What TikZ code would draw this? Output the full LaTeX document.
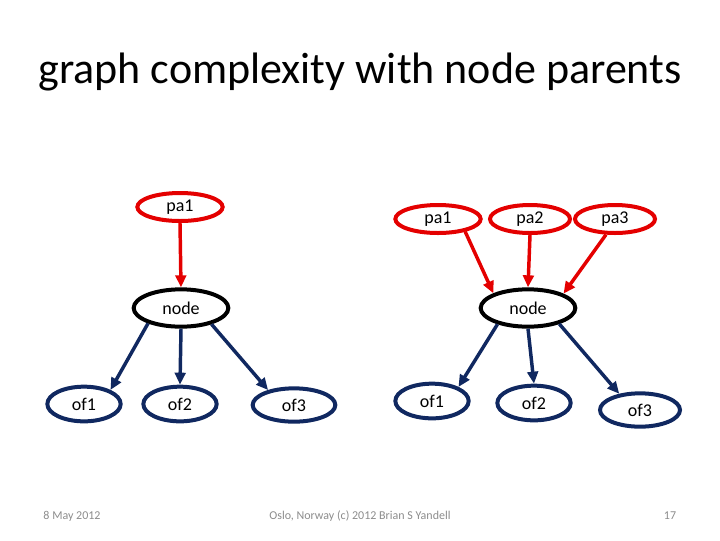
\documentclass[tikz,border=0pt]{standalone}
\usepackage{fontspec}
\setmainfont{Carlito}
\usetikzlibrary{shapes.geometric,arrows.meta}
\definecolor{myred}{RGB}{228,0,0}
\definecolor{mynavy}{RGB}{16,40,96}
\definecolor{footgray}{RGB}{140,140,140}
\tikzset{
  ell/.style={ellipse, line width=3pt, inner sep=0pt, font=\fontsize{13.5}{16}\selectfont},
  pabox/.style={ell, draw=myred, minimum width=64pt, minimum height=21pt},
  nodebox/.style={ell, draw=black, minimum width=71pt, minimum height=28pt},
  ofbox/.style={ell, draw=mynavy, minimum width=55pt, minimum height=26pt},
  redarrow/.style={draw=myred, line width=2.6pt, -{Triangle[length=9pt,width=8pt]}},
  navyarrow/.style={draw=mynavy, line width=2.6pt, -{Triangle[length=9pt,width=8pt]}},
  foot/.style={text=footgray, font=\fontsize{9}{11}\selectfont, anchor=base}
}
\begin{document}
\begin{tikzpicture}[x=0.75pt,y=-0.75pt]
\useasboundingbox (0,0) rectangle (720,540);
\node[anchor=base, font=\fontsize{33}{40}\selectfont] (title) at (360,83) {graph complexity with node parents};

% left graph
\node[pabox] (paL) at (180,207) {pa1};
\node[nodebox] (nL) at (181,308) {node};
\node[ofbox] (of1L) at (84,404) {of1};
\node[ofbox] (of2L) at (180,404) {of2};
\node[ofbox, minimum width=62pt, minimum height=25pt] (of3L) at (294,405) {of3};

\draw[redarrow] (paL.south) -- (nL.north);
\draw[navyarrow] (nL.205) -- (of1L.28);
\draw[navyarrow] (nL.south) -- (of2L.north);
\draw[navyarrow] (nL.332) -- (of3L.150);

% right graph
\node[pabox] (pa1R) at (438,219) {pa1};
\node[pabox, minimum width=60pt] (pa2R) at (530,219) {pa2};
\node[pabox, minimum width=60pt] (pa3R) at (615,219) {pa3};
\node[nodebox] (nR) at (528,308) {node};
\node[ofbox] (of1R) at (432,401) {of1};
\node[ofbox] (of2R) at (534,403) {of2};
\node[ofbox, minimum width=60pt, minimum height=25pt] (of3R) at (640,410) {of3};

\draw[redarrow] (pa1R.335) -- (nR.157);
\draw[redarrow] (pa2R.south) -- (nR.north);
\draw[redarrow] (pa3R.240) -- (nR.22);
\draw[navyarrow] (nR.208) -- (of1R.28);
\draw[navyarrow] (nR.south) -- (of2R.north);
\draw[navyarrow] (nR.333) -- (of3R.142);

% footer
\node[foot] (date) at (72,519) {8 May 2012};
\node[foot] (place) at (360,519) {Oslo, Norway (c) 2012 Brian S Yandell};
\node[foot] (page) at (670,519) {17};
\end{tikzpicture}
\end{document}
